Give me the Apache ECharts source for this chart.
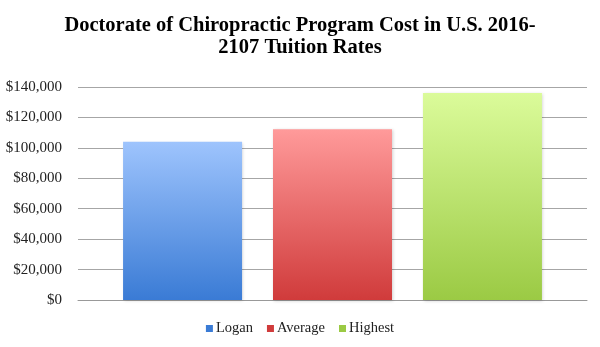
<!DOCTYPE html>
<html>
<head>
<meta charset="utf-8">
<script src="https://cdn.jsdelivr.net/npm/echarts@6/dist/echarts.min.js"></script>
<style>
  html, body { margin: 0; padding: 0; background: #fff; }
  #chart { width: 600px; height: 347px; }
</style>
</head>
<body>
<div id="chart"></div>
<script>
// Tuition totals, one series per school group
const seriesNames = ['Logan', 'Average', 'Highest'];
const seriesValues = [104000, 112200, 136000];
const categories = [''];
const topColors = ['#9ec4fd', '#ff9a9a', '#dbfb9a'];
const bottomColors = ['#3a7bd5', '#d03b3b', '#9bca44'];

const serif = '"Liberation Serif", "DejaVu Serif", serif';

function money(v) {
  return '$' + String(v).replace(/\B(?=(\d{3})+(?!\d))/g, ',');
}

const chart = echarts.init(document.getElementById('chart'), null, { renderer: 'canvas' });

chart.setOption({
  animation: false,
  title: {
    text: 'Doctorate of Chiropractic Program Cost in U.S. 2016-\n2107 Tuition Rates',
    left: 'center',
    top: 10,
    textStyle: { fontFamily: serif, fontWeight: 'bold', fontSize: 20.5, lineHeight: 22, color: '#000' }
  },
  legend: {
    bottom: 6,
    left: 'center',
    itemWidth: 7,
    itemHeight: 7,
    itemGap: 14,
    icon: 'rect',
    textStyle: { fontFamily: serif, fontSize: 14.5, color: '#222', padding: [0, 0, 0, -2] },
    data: seriesNames.map((n, i) => ({ name: n, itemStyle: { color: bottomColors[i] } }))
  },
  grid: { left: 78, right: 13, top: 87, bottom: 47 },
  xAxis: {
    type: 'category',
    data: categories,
    axisTick: { show: false },
    axisLabel: { show: false },
    axisLine: { lineStyle: { color: '#999' } }
  },
  yAxis: {
    type: 'value',
    min: 0,
    max: 140000,
    interval: 20000,
    axisLine: { show: false },
    axisTick: { show: false },
    axisLabel: { formatter: money, fontFamily: serif, fontSize: 15, color: '#222', margin: 16 },
    splitLine: { lineStyle: { color: '#a6a6a6' } }
  },
  series: seriesNames.map((name, i) => ({
    name: name,
    type: 'bar',
    data: [seriesValues[i]],
    barWidth: 119,
    barGap: '26%',
    itemStyle: {
      color: new echarts.graphic.LinearGradient(0, 0, 0, 1, [
        { offset: 0, color: topColors[i] },
        { offset: 1, color: bottomColors[i] }
      ]),
      shadowColor: 'rgba(0,0,0,0.18)',
      shadowBlur: 3,
      shadowOffsetX: 1,
      shadowOffsetY: 1
    }
  }))
});
</script>
</body>
</html>
